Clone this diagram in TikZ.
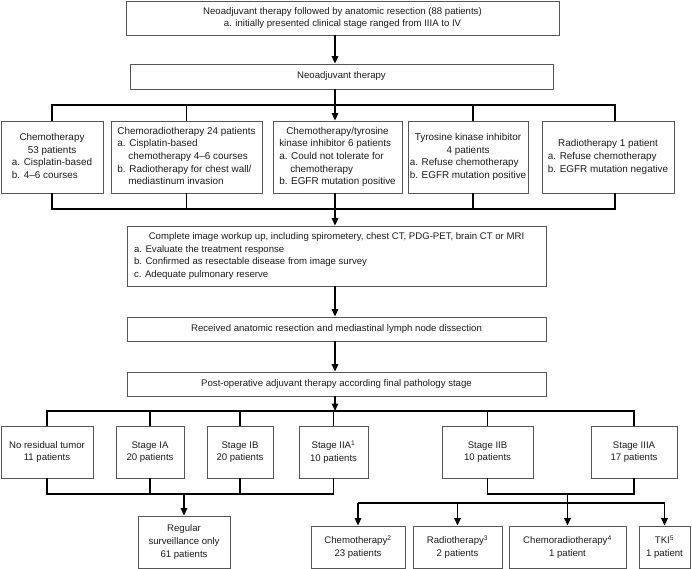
\documentclass[tikz,border=0pt]{standalone}
\usepackage{fontspec}
\setmainfont{Liberation Sans}
\usetikzlibrary{arrows.meta}
\definecolor{boxline}{HTML}{555555}
\definecolor{txt}{HTML}{1A1A1A}
\newcommand{\fs}{\fontsize{9.6}{12.6}\selectfont}
\newcommand{\fsr}{\fontsize{9.9}{12.6}\selectfont}
\newcommand{\ind}{\phantom{a.\ }}
\begin{document}
\begin{tikzpicture}[x=1pt,y=-1pt,
  box/.style={draw=boxline, line width=0.8pt, inner sep=0pt, font=\fs, text=txt, align=center},
  rowbox/.style={box, font=\fsr, minimum height=72pt},
  conn/.style={draw=black, line width=1.4pt},
  arr/.style={conn, -{Triangle[length=7.5pt,width=6.5pt]}},
  ]
\useasboundingbox (0,0) rectangle (692,569);
% main axis and bus levels
\coordinate (ax) at (335,0);
\coordinate (b1) at (0,105);
\coordinate (b2) at (0,209);
\coordinate (b3) at (0,411);
\coordinate (b4) at (0,494);
\coordinate (b5) at (0,503);
\coordinate (dD) at (473,0);
\coordinate (dE) at (615,0);

% top
\node[box, minimum width=433pt, minimum height=34pt] (top) at (342.5,18)
  {Neoadjuvant therapy followed by anatomic resection (88 patients)\\a. initially presented clinical stage ranged from IIIA to IV};
\node[box, minimum width=423pt, minimum height=25pt] (neo) at (341.5,76.5) {Neoadjuvant therapy};

% row 1
\node[rowbox, minimum width=102pt] (A) at (52,157)
  {\begin{tabular}{@{}l@{}}\multicolumn{1}{@{}c@{}}{Chemotherapy}\\\multicolumn{1}{@{}c@{}}{53 patients}\\a. Cisplatin-based\\b. 4–6 courses\end{tabular}};
\node[rowbox, minimum width=151pt] (B) at (186.5,157)
  {\begin{tabular}{@{}l@{}}Chemoradiotherapy 24 patients\\a. Cisplatin-based\\\ind chemotherapy 4–6 courses\\b. Radiotherapy for chest wall/\\\ind mediastinum invasion\end{tabular}};
\node[rowbox, minimum width=129pt] (C) at (337.5,157)
  {\begin{tabular}{@{}l@{}}\multicolumn{1}{@{}c@{}}{Chemotherapy/tyrosine}\\kinase inhibitor 6 patients\\a. Could not tolerate for\\\ind chemotherapy\\b. EGFR mutation positive\end{tabular}};
\node[rowbox, minimum width=120pt] (D) at (468,157)
  {\begin{tabular}{@{}l@{}}\multicolumn{1}{@{}c@{}}{Tyrosine kinase inhibitor}\\\multicolumn{1}{@{}c@{}}{4 patients}\\a. Refuse chemotherapy\\b. EGFR mutation positive\end{tabular}};
\node[rowbox, minimum width=132pt] (E) at (608,157)
  {\begin{tabular}{@{}l@{}}\multicolumn{1}{@{}c@{}}{Radiotherapy 1 patient}\\a. Refuse chemotherapy\\b. EGFR mutation negative\end{tabular}};

% middle
\node[box, minimum width=419pt, minimum height=60pt] (F) at (336.5,256)
  {\begin{tabular}{@{}p{405pt}@{}}\multicolumn{1}{@{}c@{}}{Complete image workup up, including spirometery, chest CT, PDG-PET, brain CT or MRI}\\a. Evaluate the treatment response\\b. Confirmed as resectable disease from image survey\\c. Adequate pulmonary reserve\end{tabular}};
\node[box, minimum width=419pt, minimum height=24pt] (G) at (336.5,329)
  {Received anatomic resection and mediastinal lymph node dissection};
\node[box, minimum width=419pt, minimum height=24pt] (H) at (336.5,384)
  {Post-operative adjuvant therapy according final pathology stage};

% stages
\node[box, minimum width=92pt, minimum height=52pt] (NR) at (47,452) {No residual tumor\\11 patients};
\node[box, minimum width=68pt, minimum height=52pt] (IA) at (150,452) {Stage IA\\20 patients};
\node[box, minimum width=66pt, minimum height=52pt] (IB) at (240,452) {Stage IB\\20 patients};
\node[box, minimum width=69pt, minimum height=52pt] (IIA) at (333.5,452) {Stage IIA\textsuperscript{1}\\10 patients};
\node[box, minimum width=91pt, minimum height=52pt] (IIB) at (487.5,452) {Stage IIB\\10 patients};
\node[box, minimum width=86pt, minimum height=52pt] (IIIA) at (634,452) {Stage IIIA\\17 patients};

% bottom
\node[box, minimum width=92pt, minimum height=52pt] (Reg) at (184,542) {Regular\\surveillance only\\61 patients};
\node[box, minimum width=94pt, minimum height=42pt] (C2) at (358,547) {Chemotherapy\textsuperscript{2}\\23 patients};
\node[box, minimum width=89pt, minimum height=42pt] (R3) at (457.5,547) {Radiotherapy\textsuperscript{3}\\2 patients};
\node[box, minimum width=117pt, minimum height=42pt] (CR) at (567.5,547) {Chemoradiotherapy\textsuperscript{4}\\1 patient};
\node[box, minimum width=51pt, minimum height=42pt] (TK) at (664.5,547) {TKI\textsuperscript{5}\\1 patient};

% connectors top
\draw[arr] (top.south -| ax) -- (neo.north -| ax);
\draw[conn] (neo.south -| ax) -- (b1 -| ax);
\draw[conn] (A.north) -- (A.north |- b1) -- (b1 -| dE) -- (E.north -| dE);
\draw[conn] (B.north) -- (B.north |- b1);
\draw[conn] (D.north -| dD) -- (b1 -| dD);
\draw[arr] (b1 -| ax) -- (C.north -| ax);
% connectors row1 -> F
\draw[conn] (A.south) -- (A.south |- b2) -- (b2 -| dE) -- (E.south -| dE);
\draw[conn] (B.south) -- (B.south |- b2);
\draw[conn] (D.south -| dD) -- (b2 -| dD);
\draw[arr] (C.south -| ax) -- (F.north -| ax);
\draw[arr] (F.south -| ax) -- (G.north -| ax);
\draw[arr] (G.south -| ax) -- (H.north -| ax);
\draw[arr] (H.south -| ax) -- (b3 -| ax);
% stage bus
\draw[conn] (NR.north) -- (NR.north |- b3) -- (IIIA.north |- b3) -- (IIIA.north);
\draw[conn] (IA.north) -- (IA.north |- b3);
\draw[conn] (IB.north) -- (IB.north |- b3);
\draw[conn] (IIA.north) -- (IIA.north |- b3);
\draw[conn] (IIB.north) -- (IIB.north |- b3);
% left group
\draw[conn] (NR.south) -- (NR.south |- b4) -- (IIA.south |- b4) -- (IIA.south);
\draw[conn] (IA.south) -- (IA.south |- b4);
\draw[conn] (IB.south) -- (IB.south |- b4);
\draw[arr] (Reg.north |- b4) -- (Reg.north);
% right group
\draw[conn] (IIB.south) -- (IIB.south |- b4) -- (IIIA.south |- b4) -- (IIIA.south);
\draw[arr] (CR.north |- b4) -- (CR.north);
\draw[conn] (C2.north |- b5) -- (TK.north |- b5);
\draw[arr] (C2.north |- b5) -- (C2.north);
\draw[arr] (R3.north |- b5) -- (R3.north);
\draw[arr] (TK.north |- b5) -- (TK.north);
\end{tikzpicture}
\end{document}
